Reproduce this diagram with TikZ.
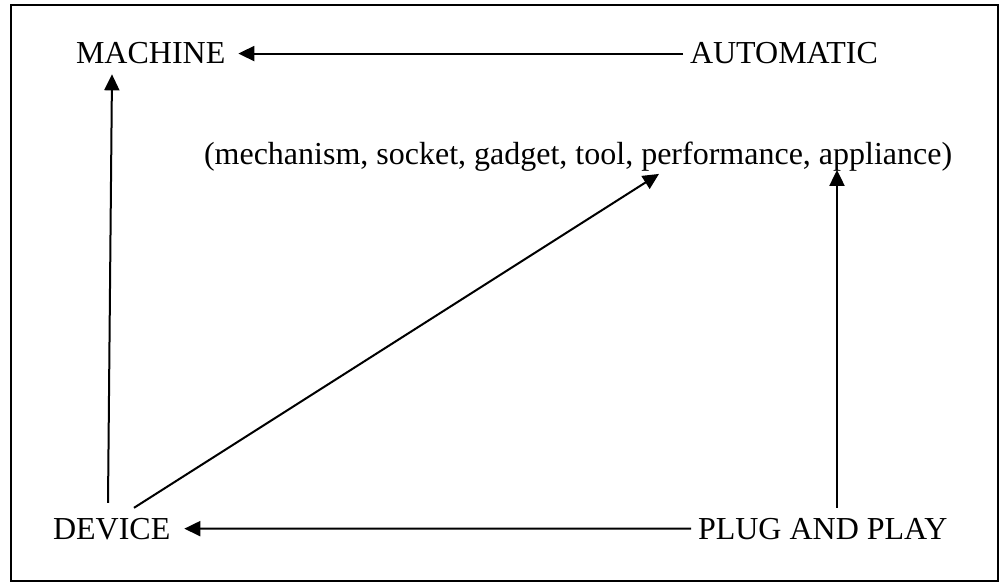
\documentclass[tikz,border=0pt]{standalone}
\usepackage{fontspec}
\setmainfont{Liberation Serif}
\usetikzlibrary{arrows.meta}
\begin{document}
\begin{tikzpicture}[x=1pt,y=-1pt,>={Triangle[length=16pt,width=15pt]}, line width=2pt, font=\fontsize{32}{38}\selectfont, every node/.style={inner sep=0pt,anchor=base west}]
				\useasboundingbox (0,0) rectangle (1002,586);
				\draw (11,5) rectangle (998,581);
				\node (mach) at (75,64) {MACHINE};
				\node (auto) at (689,64) {AUTOMATIC};
				\node (list) at (203,164) {(mechanism, socket, gadget, tool, performance, appliance)};
				\node (dev) at (52,539) {DEVICE};
				\node (plug) at (697,539) {PLUG AND PLAY};
				\draw[->] ([xshift=-6pt]auto.west)--([xshift=12pt]mach.east);
				\draw[->] ([xshift=-6pt]plug.west)--([xshift=13pt]dev.east);
				\draw[->] ([xshift=56pt,yshift=14pt]dev.north west)--([xshift=37pt,yshift=-9pt]mach.south west);
				\draw[->] ([xshift=82pt,yshift=9pt]dev.north west)--([xshift=456pt,yshift=-2pt]list.south west);
				\draw[->] ([xshift=140pt,yshift=9pt]plug.north west)--([xshift=634pt,yshift=2pt]list.south west);
				\end{tikzpicture}
\end{document}
